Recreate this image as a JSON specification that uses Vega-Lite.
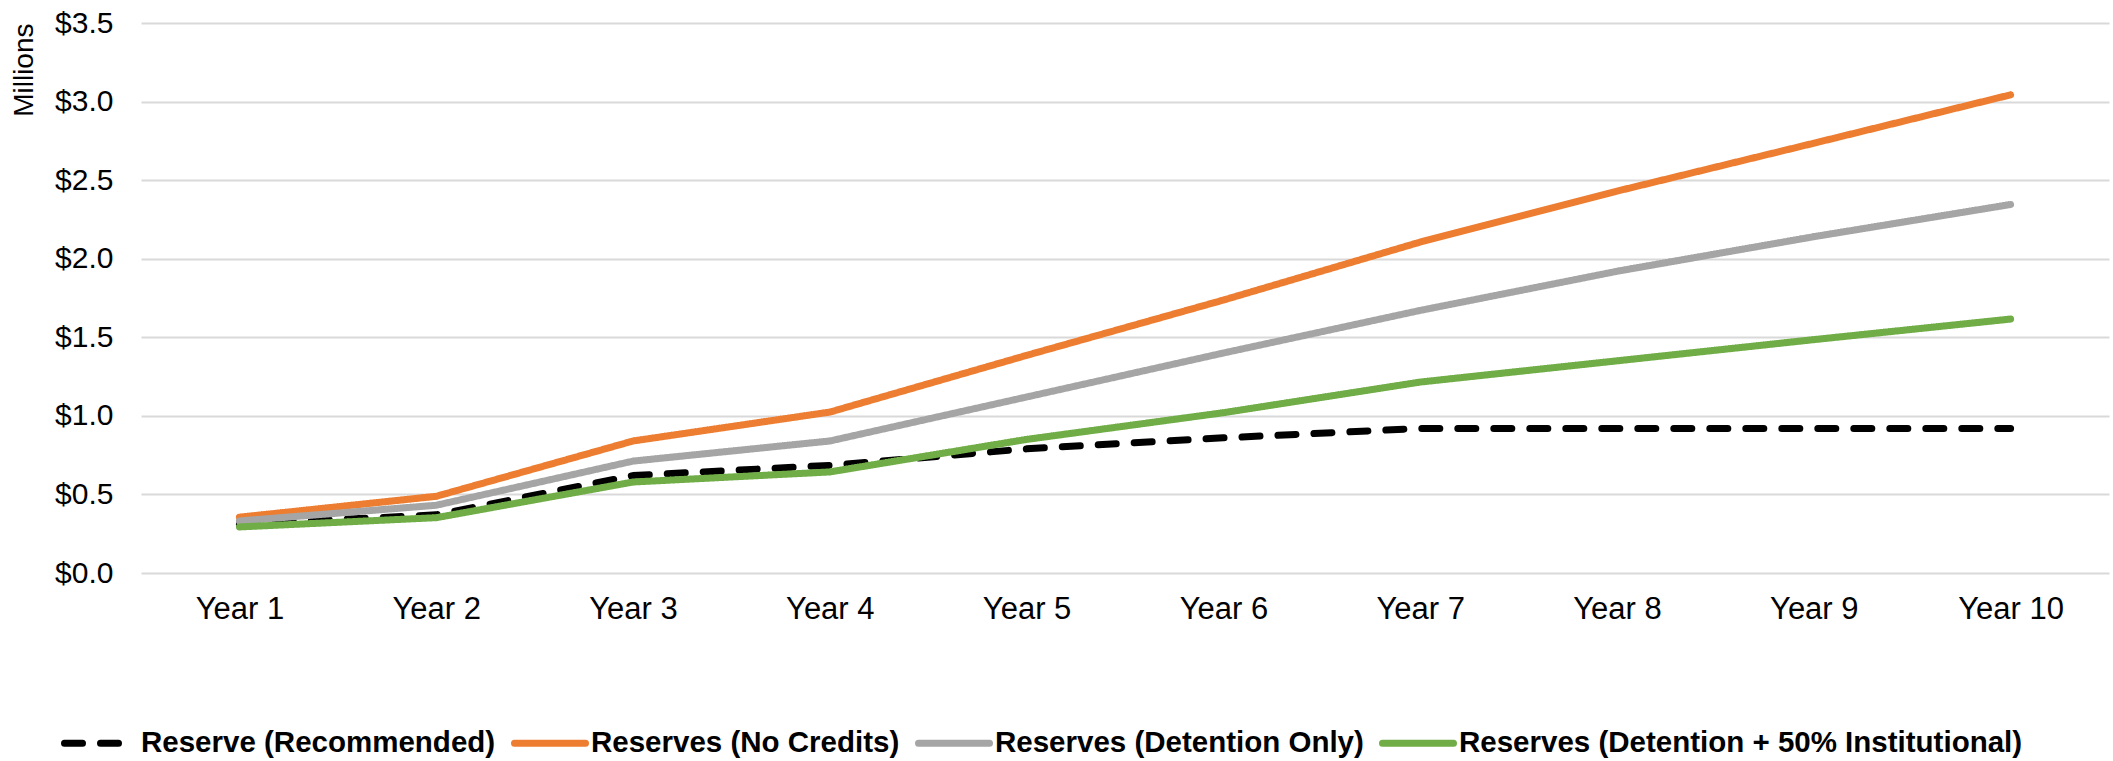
{
  "$schema": "https://vega.github.io/schema/vega-lite/v6.json",
  "width": 1968,
  "height": 550,
  "autosize": {"type": "none"},
  "padding": {"left": 141, "top": 23, "right": 4, "bottom": 188},
  "background": "white",
  "config": {
    "view": {"stroke": null},
    "font": "Liberation Sans",
    "legend": {
      "orient": "none",
      "legendX": -80,
      "legendY": 681,
      "direction": "horizontal",
      "symbolType": "stroke",
      "symbolSize": 5041,
      "symbolStrokeWidth": 7,
      "labelFont": "Liberation Sans",
      "labelFontWeight": "bold",
      "labelFontSize": 29.5,
      "labelColor": "#000000",
      "labelLimit": 0,
      "labelOffset": 2,
      "columnPadding": 4,
      "title": null
    }
  },
  "data": {
    "values": [
      {"year": "Year 1", "series": "Reserve (Recommended)", "value": 0.31},
      {"year": "Year 2", "series": "Reserve (Recommended)", "value": 0.37},
      {"year": "Year 3", "series": "Reserve (Recommended)", "value": 0.62},
      {"year": "Year 4", "series": "Reserve (Recommended)", "value": 0.685},
      {"year": "Year 5", "series": "Reserve (Recommended)", "value": 0.79},
      {"year": "Year 6", "series": "Reserve (Recommended)", "value": 0.86},
      {"year": "Year 7", "series": "Reserve (Recommended)", "value": 0.92},
      {"year": "Year 8", "series": "Reserve (Recommended)", "value": 0.92},
      {"year": "Year 9", "series": "Reserve (Recommended)", "value": 0.92},
      {"year": "Year 10", "series": "Reserve (Recommended)", "value": 0.92},
      {"year": "Year 1", "series": "Reserves (No Credits)", "value": 0.355},
      {"year": "Year 2", "series": "Reserves (No Credits)", "value": 0.488},
      {"year": "Year 3", "series": "Reserves (No Credits)", "value": 0.84},
      {"year": "Year 4", "series": "Reserves (No Credits)", "value": 1.024},
      {"year": "Year 5", "series": "Reserves (No Credits)", "value": 1.385},
      {"year": "Year 6", "series": "Reserves (No Credits)", "value": 1.737},
      {"year": "Year 7", "series": "Reserves (No Credits)", "value": 2.106},
      {"year": "Year 8", "series": "Reserves (No Credits)", "value": 2.43},
      {"year": "Year 9", "series": "Reserves (No Credits)", "value": 2.735},
      {"year": "Year 10", "series": "Reserves (No Credits)", "value": 3.043},
      {"year": "Year 1", "series": "Reserves (Detention Only)", "value": 0.331},
      {"year": "Year 2", "series": "Reserves (Detention Only)", "value": 0.431},
      {"year": "Year 3", "series": "Reserves (Detention Only)", "value": 0.712},
      {"year": "Year 4", "series": "Reserves (Detention Only)", "value": 0.84},
      {"year": "Year 5", "series": "Reserves (Detention Only)", "value": 1.12},
      {"year": "Year 6", "series": "Reserves (Detention Only)", "value": 1.4},
      {"year": "Year 7", "series": "Reserves (Detention Only)", "value": 1.671},
      {"year": "Year 8", "series": "Reserves (Detention Only)", "value": 1.92},
      {"year": "Year 9", "series": "Reserves (Detention Only)", "value": 2.14},
      {"year": "Year 10", "series": "Reserves (Detention Only)", "value": 2.345},
      {"year": "Year 1", "series": "Reserves (Detention + 50% Institutional)", "value": 0.293},
      {"year": "Year 2", "series": "Reserves (Detention + 50% Institutional)", "value": 0.352},
      {"year": "Year 3", "series": "Reserves (Detention + 50% Institutional)", "value": 0.579},
      {"year": "Year 4", "series": "Reserves (Detention + 50% Institutional)", "value": 0.643},
      {"year": "Year 5", "series": "Reserves (Detention + 50% Institutional)", "value": 0.85},
      {"year": "Year 6", "series": "Reserves (Detention + 50% Institutional)", "value": 1.02},
      {"year": "Year 7", "series": "Reserves (Detention + 50% Institutional)", "value": 1.215},
      {"year": "Year 8", "series": "Reserves (Detention + 50% Institutional)", "value": 1.35},
      {"year": "Year 9", "series": "Reserves (Detention + 50% Institutional)", "value": 1.485},
      {"year": "Year 10", "series": "Reserves (Detention + 50% Institutional)", "value": 1.616}
    ]
  },
  "mark": {"type": "line", "strokeWidth": 7, "strokeCap": "round", "strokeJoin": "round"},
  "encoding": {
    "x": {
      "field": "year",
      "type": "ordinal",
      "sort": ["Year 1", "Year 2", "Year 3", "Year 4", "Year 5", "Year 6", "Year 7", "Year 8", "Year 9", "Year 10"],
      "scale": {"type": "point", "padding": 0.5},
      "axis": {
        "title": null,
        "labelAngle": 0,
        "domain": false,
        "ticks": false,
        "grid": false,
        "labelFontSize": 31,
        "labelColor": "#000000",
        "labelPadding": 21
      }
    },
    "y": {
      "field": "value",
      "type": "quantitative",
      "scale": {"domain": [0, 3.5], "nice": false},
      "axis": {
        "values": [0, 0.5, 1, 1.5, 2, 2.5, 3, 3.5],
        "format": "$.1f",
        "grid": true,
        "gridColor": "#d9d9d9",
        "gridWidth": 2,
        "domain": false,
        "ticks": false,
        "labelFontSize": 30,
        "labelColor": "#000000",
        "labelPadding": 28,
        "title": "Millions",
        "titleFontSize": 28,
        "titleFontWeight": "normal",
        "titleColor": "#000000",
        "titleAnchor": "end",
        "titlePadding": 16
      }
    },
    "color": {
      "field": "series",
      "type": "nominal",
      "scale": {
        "domain": ["Reserve (Recommended)", "Reserves (No Credits)", "Reserves (Detention Only)", "Reserves (Detention + 50% Institutional)"],
        "range": ["#000000", "#ED7D31", "#A5A5A5", "#70AD47"]
      },
      "legend": {"encode": {"symbols": {"update": {"strokeCap": {"value": "round"}}}}}
    },
    "strokeDash": {
      "field": "series",
      "type": "nominal",
      "scale": {
        "domain": ["Reserve (Recommended)", "Reserves (No Credits)", "Reserves (Detention Only)", "Reserves (Detention + 50% Institutional)"],
        "range": [[18, 18], [1, 0], [1, 0], [1, 0]]
      },
      "legend": {"encode": {"symbols": {"update": {"strokeCap": {"value": "round"}}}}}
    }
  }
}
